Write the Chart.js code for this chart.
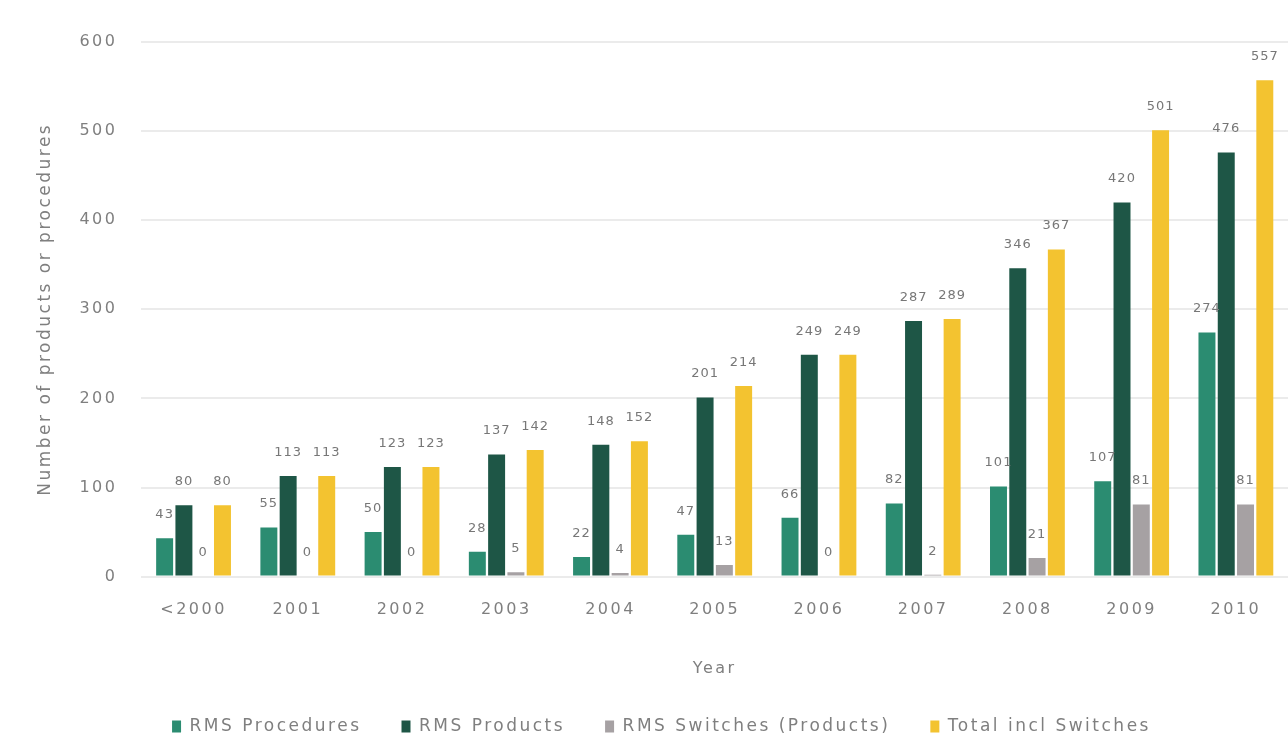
<!DOCTYPE html>
<html>
<head>
<meta charset="utf-8">
<script src="https://cdn.jsdelivr.net/npm/chart.js@4/dist/chart.umd.min.js"></script>
<style>
  html, body { margin: 0; padding: 0; background: #fff; }
  #wrap { width: 1288px; height: 751px; position: relative; }
</style>
</head>
<body>
<div id="wrap"><canvas id="rmsChart"></canvas></div>
<script>
// Yearly counts
const years = ['<2000', '2001', '2002', '2003', '2004', '2005', '2006', '2007', '2008', '2009', '2010'];
const procedures = [43, 55, 50, 28, 22, 47, 66, 82, 101, 107, 274];
const products = [80, 113, 123, 137, 148, 201, 249, 287, 346, 420, 476];
const switches = [0, 0, 0, 5, 4, 13, 0, 2, 21, 81, 81];
const totalWithSwitches = [80, 113, 123, 142, 152, 214, 249, 289, 367, 501, 557];

const yTicks = [0, 100, 200, 300, 400, 500, 600];

// Slightly spaced text for axes and legend (canvas state is reset on resize, so set it on every pass)
const spacedText = {
    id: 'spacedText',
    beforeUpdate(chart) { chart.ctx.letterSpacing = '2.5px'; },
    beforeDraw(chart) { chart.ctx.letterSpacing = '2.5px'; }
};

// Value labels above each bar
const barValues = {
    id: 'barValues',
    afterDatasetsDraw(chart) {
        const ctx = chart.ctx;
        ctx.save();
        ctx.letterSpacing = '1px';
        ctx.font = '13px "DejaVu Sans"';
        ctx.fillStyle = '#777777';
        ctx.textAlign = 'center';
        ctx.textBaseline = 'bottom';
        chart.data.datasets.forEach((ds, i) => {
            chart.getDatasetMeta(i).data.forEach((bar, j) => {
                ctx.fillText(String(ds.data[j]), bar.x, bar.y - 17);
            });
        });
        ctx.restore();
    }
};

const ctx = document.getElementById('rmsChart').getContext('2d');

const axisFont = { family: '"DejaVu Sans"', size: 16 };

new Chart(ctx, {
    type: 'bar',
    data: {
        labels: years,
        datasets: [
            { label: 'RMS Procedures', data: procedures, backgroundColor: '#2b8c71' },
            { label: 'RMS Products', data: products, backgroundColor: '#1e5646' },
            { label: 'RMS Switches (Products)', data: switches, backgroundColor: '#a6a1a3' },
            { label: 'Total incl Switches', data: totalWithSwitches, backgroundColor: '#f3c330' }
        ]
    },
    options: {
        responsive: true,
        maintainAspectRatio: false,
        animation: false,
        categoryPercentage: 0.74,
        barPercentage: 0.88,
        layout: { padding: { top: 42, left: 35, right: 0, bottom: 6 } },
        font: { family: '"DejaVu Sans"' },
        plugins: {
            tooltip: { enabled: false },
            legend: {
                position: 'bottom',
                labels: {
                    boxWidth: 9,
                    boxHeight: 12,
                    padding: 40,
                    color: '#7f7f7f',
                    font: { family: '"DejaVu Sans"', size: 17 }
                }
            }
        },
        scales: {
            x: {
                grid: { display: false, drawTicks: false },
                border: { display: false },
                ticks: {
                    color: '#7f7f7f',
                    padding: 24,
                    font: axisFont
                },
                title: {
                    display: true,
                    text: 'Year',
                    color: '#7f7f7f',
                    padding: { top: 15, bottom: 0 },
                    font: axisFont
                }
            },
            y: {
                min: 0,
                max: 600,
                afterBuildTicks(scale) {
                    scale.ticks = yTicks.map(v => ({ value: v }));
                },
                grid: { color: '#ebebeb', lineWidth: 2, drawTicks: false },
                border: { display: false },
                ticks: {
                    color: '#7f7f7f',
                    padding: 24,
                    font: axisFont
                },
                title: {
                    display: true,
                    text: 'Number of products or procedures',
                    color: '#7f7f7f',
                    padding: { top: 0, bottom: 0 },
                    font: { family: '"DejaVu Sans"', size: 17 }
                }
            }
        }
    },
    plugins: [spacedText, barValues]
});
</script>
</body>
</html>
